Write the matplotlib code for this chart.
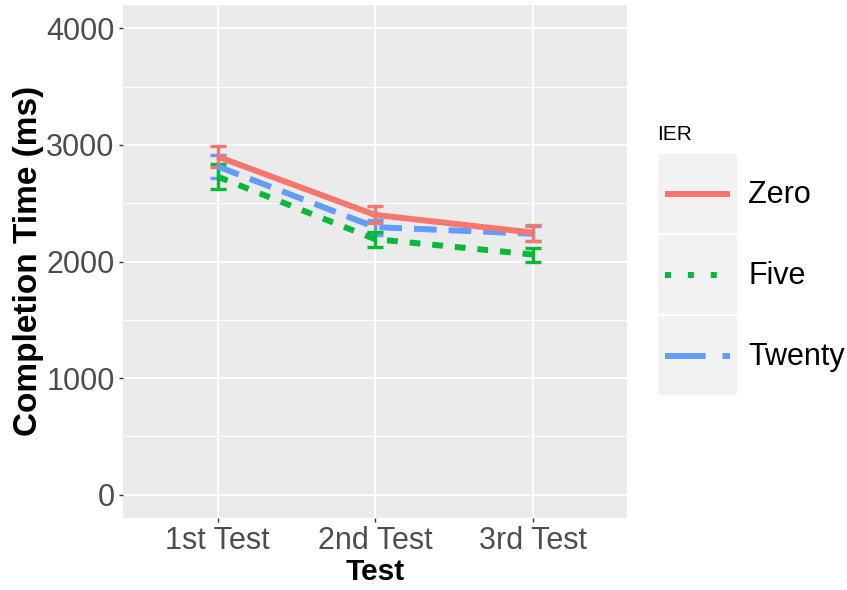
import matplotlib
matplotlib.use("Agg")
import matplotlib.pyplot as plt
import numpy as np

plt.rcParams['font.family'] = ['Liberation Sans', 'DejaVu Sans']

tests = ['1st Test', '2nd Test', '3rd Test']
groups = ['Zero', 'Five', 'Twenty']
zero = [2900, 2400, 2248]
zero_se = [92, 73, 69]
five = [2728, 2192, 2060]
five_se = [107, 64, 60]
twenty = [2816, 2295, 2238]
twenty_se = [98, 65, 66]

colors = {'Zero': '#F8766D', 'Five': '#00BA38', 'Twenty': '#619CFF'}
W, H = 847, 590
fig = plt.figure(figsize=(W / 100, H / 100), dpi=100)

# main panel
ax = fig.add_axes([123 / W, 1 - 518 / H, (627 - 123) / W, (518 - 5) / H])
ax.set_facecolor('#EBEBEB')
for s in ax.spines.values():
    s.set_visible(False)

x = np.arange(1, len(tests) + 1)
lw = 4.3
series = [('Twenty', twenty, twenty_se, (3.8, 2.0)),
          ('Five', five, five_se, (1.8, 2.0)),
          ('Zero', zero, zero_se, None)]
for name, vals, se, dash in series:
    c = colors[name]
    ax.errorbar(x, vals, yerr=se, fmt='none', ecolor=c, elinewidth=2.4,
                capsize=5.8, capthick=2.4, zorder=3)
    ln, = ax.plot(x, vals, color=c, lw=lw, solid_capstyle='butt',
                  dash_capstyle='butt', zorder=4)
    if dash is not None:
        ln.set_dashes(dash)

ax.set_xlim(0.4, 3.6)
ax.set_ylim(-200, 4200)
ax.set_xticks(x)
ax.set_xticklabels(tests)
ax.set_yticks([0, 1000, 2000, 3000, 4000])
ax.set_yticks([500, 1500, 2500, 3500], minor=True)
ax.grid(which='major', color='white', lw=1.4, zorder=0)
ax.grid(which='minor', axis='y', color='white', lw=0.7, zorder=0)
ax.set_axisbelow(True)
ax.tick_params(which='major', length=3, width=1.0, color='#333333',
               labelsize=22, labelcolor='#4D4D4D', pad=3)
ax.tick_params(which='minor', length=0)

fig.text(375 / W, 1 - 572 / H, 'Test', fontsize=21.5, fontweight='bold',
         ha='center', va='center')
fig.text(29 / W, 1 - 261 / H, 'Completion Time (ms)', fontsize=24,
         fontweight='bold', rotation=90, ha='center', va='center')

# legend
fig.text(657 / W, 1 - 134 / H, 'IER', fontsize=15, ha='left', va='center')
key_tops = [154, 235, 316]
key_dashes = {'Zero': None, 'Five': (1.0, 2.83), 'Twenty': (6.8, 2.83)}
for name, top in zip(groups, key_tops):
    kax = fig.add_axes([658 / W, 1 - (top + 79) / H, 79 / W, 79 / H])
    kax.set_facecolor('#F2F2F2')
    for s in kax.spines.values():
        s.set_visible(False)
    kax.set_xticks([])
    kax.set_yticks([])
    kax.set_xlim(0, 1)
    kax.set_ylim(0, 1)
    kl, = kax.plot([0.089, 0.91], [0.5, 0.5], color=colors[name], lw=lw,
                   solid_capstyle='butt', dash_capstyle='butt')
    if key_dashes[name] is not None:
        kl.set_dashes(key_dashes[name])
    fig.text(748 / W, 1 - (top + 41) / H, name, fontsize=22, ha='left',
             va='center')

fig.savefig('out.png', dpi=100)
